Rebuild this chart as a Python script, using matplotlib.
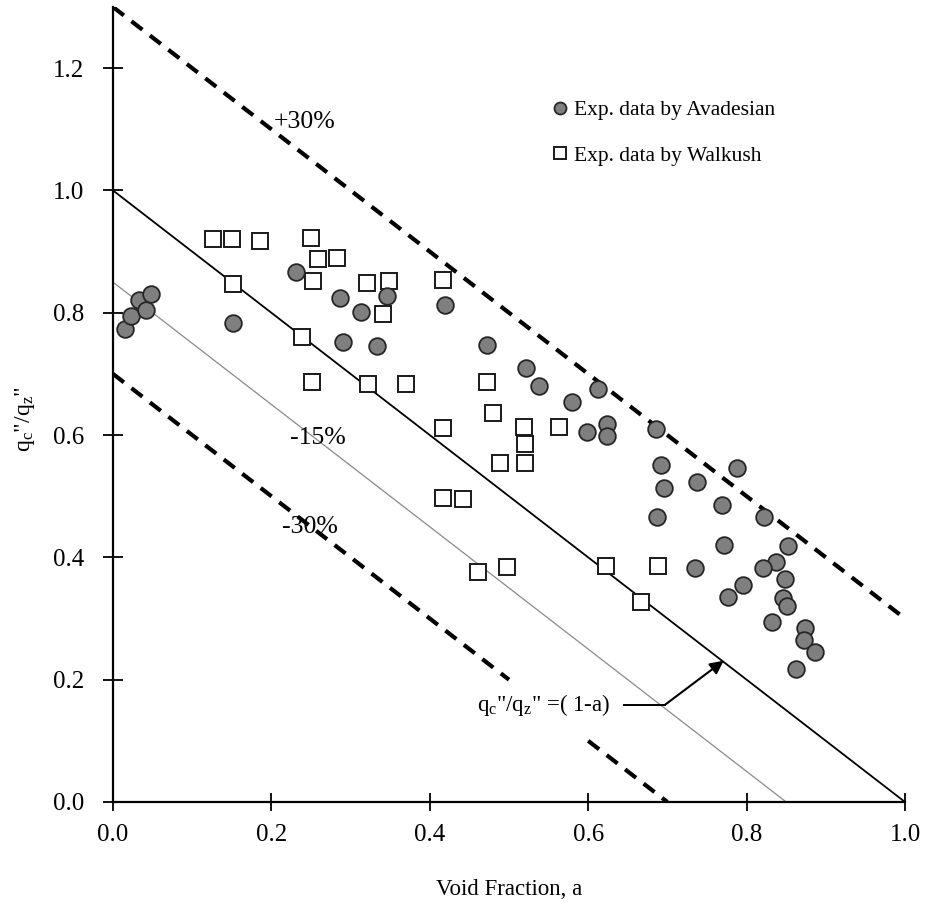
import numpy as np
import matplotlib
matplotlib.use("Agg")
import matplotlib.pyplot as plt

plt.rcParams['font.family'] = ['Liberation Serif', 'DejaVu Serif']
plt.rcParams['mathtext.fontset'] = 'custom'
plt.rcParams['mathtext.rm'] = 'Liberation Serif'
plt.rcParams['mathtext.it'] = 'Liberation Serif:italic'

# ---- data ----
avad_x = [0.015, 0.023, 0.033, 0.042, 0.048, 0.152, 0.231, 0.287, 0.290, 0.313,
          0.346, 0.333, 0.419, 0.472, 0.521, 0.538, 0.580, 0.612, 0.598, 0.624,
          0.624, 0.686, 0.692, 0.696, 0.687, 0.738, 0.735, 0.788, 0.769, 0.822,
          0.771, 0.852, 0.837, 0.821, 0.848, 0.796, 0.776, 0.846, 0.851, 0.832,
          0.874, 0.872, 0.886, 0.863]
avad_y = [0.773, 0.795, 0.821, 0.804, 0.830, 0.783, 0.866, 0.824, 0.752, 0.801,
          0.827, 0.745, 0.812, 0.747, 0.709, 0.680, 0.654, 0.675, 0.605, 0.618,
          0.598, 0.610, 0.551, 0.513, 0.466, 0.524, 0.383, 0.546, 0.486, 0.466,
          0.420, 0.419, 0.392, 0.383, 0.365, 0.355, 0.335, 0.333, 0.320, 0.294,
          0.284, 0.265, 0.246, 0.217]

walk_x = [0.126, 0.150, 0.186, 0.250, 0.259, 0.283, 0.253, 0.152, 0.239, 0.251,
          0.321, 0.348, 0.417, 0.341, 0.322, 0.370, 0.472, 0.417, 0.480, 0.519,
          0.563, 0.520, 0.489, 0.520, 0.417, 0.442, 0.461, 0.497, 0.622, 0.688,
          0.667]
walk_y = [0.920, 0.920, 0.917, 0.922, 0.888, 0.889, 0.852, 0.847, 0.760, 0.687,
          0.848, 0.852, 0.853, 0.798, 0.684, 0.684, 0.687, 0.612, 0.636, 0.613,
          0.613, 0.585, 0.554, 0.554, 0.497, 0.495, 0.376, 0.384, 0.386, 0.386,
          0.327]

# model lines: q = offset - a
line_plus30 = (1.3, [0.0, 1.0])
line_main = (1.0, [0.0, 1.0])
line_m15 = (0.85, [0.0, 0.85])
line_m30_a = (0.7, [0.0, 0.50])
line_m30_b = (0.7, [0.60, 0.70])

x_ticks = [0.0, 0.2, 0.4, 0.6, 0.8, 1.0]
y_ticks = [0.0, 0.2, 0.4, 0.6, 0.8, 1.0, 1.2]

fig = plt.figure(figsize=(9.25, 9.14), dpi=100)
ax = fig.add_axes([113/925, 1-802/914, 792/925, 795/914])

def draw(line, **kw):
    off, xs = line
    xs = np.array(xs)
    ax.plot(xs, off - xs, **kw)

dash = dict(color='black', lw=3.0, dashes=(3.3, 2.3), solid_capstyle='butt', dash_capstyle='butt')
draw(line_plus30, **dash)
draw(line_m30_a, **dash)
draw(line_m30_b, **dash)
draw(line_main, color='black', lw=1.3)
draw(line_m15, color='#8a8a8a', lw=0.9)

ax.plot(avad_x, avad_y, 'o', ms=12, mfc='#7f7f7f', mec='#262626', mew=1.3,
        label='Exp. data by Avadesian', zorder=5)
ax.plot(walk_x, walk_y, 's', ms=11.5, mfc='white', mec='#1a1a1a', mew=1.4,
        label='Exp. data by Walkush', zorder=4)

ax.set_xlim(0, 1.0)
ax.set_ylim(0, 1.3)
ax.set_xticks(x_ticks)
ax.set_yticks(y_ticks)
ax.set_xticklabels([f'{v:.1f}' for v in x_ticks])
ax.set_yticklabels([f'{v:.1f}' for v in y_ticks])
ax.tick_params(axis='x', direction='inout', length=13, width=1.3, labelsize=18, pad=9)
ax.tick_params(axis='y', direction='inout', length=14, width=1.3, labelsize=18, pad=14)

for s in ['top', 'right']:
    ax.spines[s].set_visible(False)
for s in ['left', 'bottom']:
    ax.spines[s].set_linewidth(1.6)

ax.set_xlabel('Void Fraction, a', fontsize=16.5)
ax.xaxis.set_label_coords(0.5, -0.097)
ax.set_ylabel('q$_\\mathrm{c}$"/q$_\\mathrm{z}$"', fontsize=17)
ax.yaxis.set_label_coords(-0.096, 0.482)

ax.text(0.242, 1.112, '+30%', fontsize=18.5, ha='center', va='center')
ax.text(0.259, 0.595, '-15%', fontsize=18.5, ha='center', va='center')
ax.text(0.249, 0.450, '-30%', fontsize=18.5, ha='center', va='center')

ax.text(0.6275, 0.159, 'q$_\\mathrm{c}$"/q$_\\mathrm{z}$" =( 1-a)', fontsize=16.5,
        ha='right', va='center')
ax.plot([0.645, 0.697], [0.159, 0.159], color='black', lw=1.4)
ax.annotate('', xy=(0.771, 0.231), xytext=(0.697, 0.159),
            arrowprops=dict(arrowstyle='-|>', color='black', lw=1.5,
                            mutation_scale=20, shrinkA=0, shrinkB=0))

leg = ax.legend(loc='upper left', bbox_to_anchor=(0.556, 0.883), frameon=False,
                fontsize=15.5, handlelength=0.65, handletextpad=0.3,
                labelspacing=1.18, borderpad=0, borderaxespad=0, markerscale=0.72)

fig.savefig('out.png', dpi=100)
